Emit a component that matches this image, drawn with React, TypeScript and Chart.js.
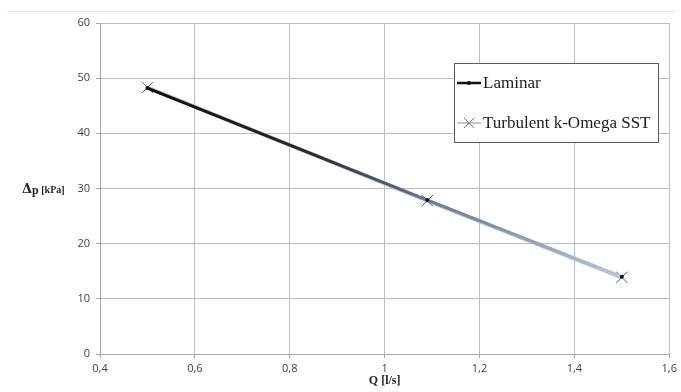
import React, { useEffect, useRef } from "react";
import { Chart, registerables } from "chart.js";

Chart.register(...registerables);

const seriesNames = ["Laminar", "Turbulent k-Omega SST"];
const flowQ = [0.5, 1.09, 1.5];
const laminarDp = [48.2, 27.9, 14.0];
const turbulentDp = [48.3, 27.8, 13.9];
const xTitle = "Q [l/s]";
const yTitleParts = ["Δ", "p", " [kPa]"];
const xMin = 0.4, xMax = 1.6, xStep = 0.2;
const yMin = 0, yMax = 60, yStep = 10;

const fmt = (v: number) => String(Number(v.toFixed(1))).replace(".", ",");

const decorPlugin = {
  id: "decor",
  beforeDraw(chart: any) {
    const ctx = chart.ctx;
    ctx.save();
    ctx.fillStyle = "#ffffff";
    ctx.fillRect(0, 0, chart.width, chart.height);
    ctx.strokeStyle = "#e8e8e8";
    ctx.lineWidth = 1;
    ctx.beginPath();
    ctx.moveTo(7, 11.5);
    ctx.lineTo(675, 11.5);
    ctx.stroke();
    ctx.restore();
  },
  afterDraw(chart: any) {
    const ctx = chart.ctx;
    const ca = chart.chartArea;
    ctx.save();
    // axis titles
    ctx.fillStyle = "#262626";
    ctx.textBaseline = "alphabetic";
    ctx.font = "bold 12px 'Liberation Serif', serif";
    ctx.textAlign = "center";
    ctx.fillText(xTitle, (ca.left + ca.right) / 2, 384);
    const yc = (ca.top + ca.bottom) / 2;
    let x = 22;
    ctx.textAlign = "left";
    ctx.font = "bold 13px 'DejaVu Serif', serif";
    ctx.fillText(yTitleParts[0], x, yc + 4);
    x += ctx.measureText(yTitleParts[0]).width;
    ctx.font = "bold 12px 'Liberation Serif', serif";
    ctx.fillText(yTitleParts[1], x, yc + 5);
    x += ctx.measureText(yTitleParts[1]).width;
    ctx.font = "bold 10px 'Liberation Serif', serif";
    ctx.fillText(yTitleParts[2], x, yc + 4);

    // legend box
    const bx = 454.5, by = 63.5, bw = 204, bh = 79;
    ctx.fillStyle = "#ffffff";
    ctx.fillRect(bx, by, bw, bh);
    ctx.strokeStyle = "#5a5a5a";
    ctx.lineWidth = 1;
    ctx.strokeRect(bx, by, bw, bh);
    const rows = [83, 123];
    // laminar sample
    ctx.strokeStyle = "#111111";
    ctx.lineWidth = 2.5;
    ctx.beginPath();
    ctx.moveTo(457, rows[0]);
    ctx.lineTo(481, rows[0]);
    ctx.stroke();
    ctx.fillStyle = "#111111";
    ctx.beginPath();
    ctx.arc(469, rows[0], 2, 0, Math.PI * 2);
    ctx.fill();
    // turbulent sample
    ctx.strokeStyle = "#a9b6cf";
    ctx.lineWidth = 1.5;
    ctx.beginPath();
    ctx.moveTo(457, rows[1]);
    ctx.lineTo(481, rows[1]);
    ctx.stroke();
    ctx.strokeStyle = "#777777";
    ctx.lineWidth = 1;
    ctx.beginPath();
    ctx.moveTo(464, rows[1] - 5);
    ctx.lineTo(474, rows[1] + 5);
    ctx.moveTo(474, rows[1] - 5);
    ctx.lineTo(464, rows[1] + 5);
    ctx.stroke();
    ctx.fillStyle = "#1a1a1a";
    ctx.font = "17px 'Liberation Serif', serif";
    ctx.textBaseline = "middle";
    ctx.fillText(seriesNames[0], 483, rows[0] + 1);
    ctx.fillText(seriesNames[1], 483, rows[1] + 1);
    ctx.restore();
  },
};

export default function App() {
  const ref = useRef<HTMLCanvasElement | null>(null);
  useEffect(() => {
    if (!ref.current) return;
    const laminarColor = (c: any) => {
      const chart = c.chart;
      if (!chart.chartArea || !chart.scales.x) return "#111111";
      const x0 = chart.scales.x.getPixelForValue(flowQ[0]);
      const x1 = chart.scales.x.getPixelForValue(flowQ[flowQ.length - 1]);
      const g = chart.ctx.createLinearGradient(x0, 0, x1, 0);
      g.addColorStop(0, "#0d0d0d");
      g.addColorStop(0.35, "#2a2a2e");
      g.addColorStop(0.6, "#6e7890");
      g.addColorStop(1, "#b9c6df");
      return g;
    };
    const chart = new Chart(ref.current, {
      type: "line",
      data: {
        datasets: [
          {
            label: seriesNames[0],
            data: flowQ.map((q, i) => ({ x: q, y: laminarDp[i] })),
            borderColor: laminarColor,
            borderWidth: 3,
            pointRadius: 2,
            pointBackgroundColor: "#111111",
            pointBorderColor: "#111111",
            pointBorderWidth: 0,
            tension: 0,
          },
          {
            label: seriesNames[1],
            data: flowQ.map((q, i) => ({ x: q, y: turbulentDp[i] })),
            borderColor: "#b4c1db",
            borderWidth: 4,
            pointStyle: "crossRot",
            pointRadius: 8,
            pointBorderColor: "#5f5f5f",
            pointBorderWidth: 1,
            tension: 0,
          },
        ],
      },
      options: {
        animation: false,
        responsive: false,
        devicePixelRatio: 1,
        layout: { padding: { top: 23, right: 9, left: 0, bottom: 0 } },
        plugins: { legend: { display: false }, tooltip: { enabled: false } },
        scales: {
          x: {
            type: "linear",
            min: xMin,
            max: xMax,
            afterFit: (s: any) => { s.height = 38; },
            ticks: {
              stepSize: xStep,
              callback: (v: any) => fmt(Number(v)),
              color: "#404040",
              font: { family: "'Open Sans', sans-serif", size: 11 },
              padding: 4,
              maxRotation: 0,
            },
            grid: { color: "#bdbdbd", lineWidth: 1, tickLength: 4, tickColor: "#a6a6a6" },
            border: { color: "#a6a6a6", width: 1 },
          },
          y: {
            type: "linear",
            min: yMin,
            max: yMax,
            afterFit: (s: any) => { s.width = 100; },
            ticks: {
              stepSize: yStep,
              color: "#404040",
              font: { family: "'Open Sans', sans-serif", size: 11 },
              padding: 6,
            },
            grid: { color: "#bdbdbd", lineWidth: 1, tickLength: 4, tickColor: "#a6a6a6" },
            border: { color: "#a6a6a6", width: 1 },
          },
        },
      },
      plugins: [decorPlugin],
    } as any);
    return () => chart.destroy();
  }, []);
  return (
    <canvas
      ref={ref}
      width={681}
      height={392}
      style={{ position: "fixed", left: 0, top: 0, width: 681, height: 392 }}
    />
  );
}
